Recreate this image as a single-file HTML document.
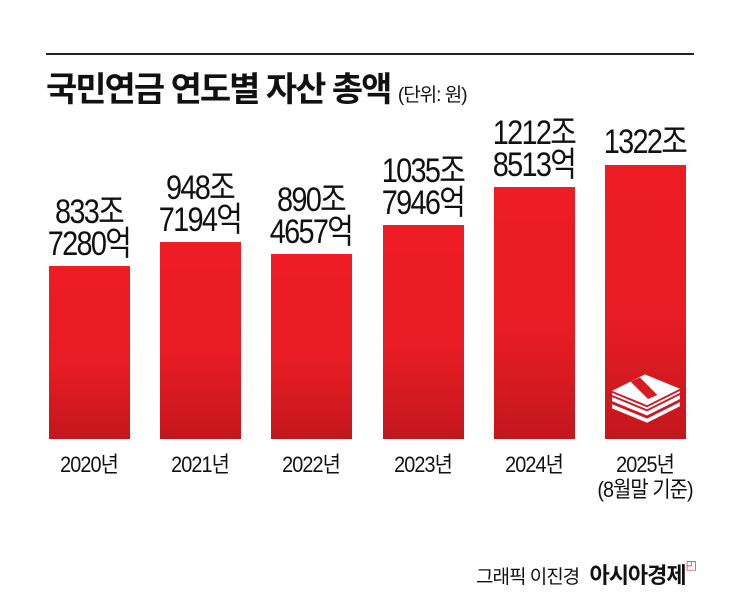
<!DOCTYPE html>
<html><head><meta charset="utf-8"><style>
body{margin:0;width:745px;height:608px;background:#fff;position:relative;overflow:hidden;font-family:"Liberation Sans","Noto Sans CJK KR",sans-serif;color:#111}
.ln{position:absolute;left:46px;top:53px;width:648px;height:2px;background:#222}
.title{position:absolute;left:46px;top:62px;font-size:34px;font-weight:bold;letter-spacing:-2px;white-space:nowrap}
.title span{font-size:19px;font-weight:normal;letter-spacing:-1px}
.bar{position:absolute;width:81px;bottom:169px;background:linear-gradient(#ee1c25 0%,#e81c24 55%,#c4161d 100%)}
.v{position:absolute;width:140px;text-align:center;font-size:34px;line-height:32px;letter-spacing:-2px;transform:scaleX(0.85);white-space:nowrap}
.y{position:absolute;width:140px;text-align:center;font-size:22px;line-height:25px;top:452px;letter-spacing:-1px;transform:scaleX(0.9)}
.cr{position:absolute;left:476px;top:558px;font-size:19px;letter-spacing:-1px;white-space:nowrap}
.cr b{font-size:22px;margin-left:6px}
</style></head><body>
<div class="ln"></div>
<div class="title">국민연금 연도별 자산 총액 <span>(단위: 원)</span></div>

<div class="bar" style="left:49px;top:266px"></div>
<div class="bar" style="left:160px;top:242px"></div>
<div class="bar" style="left:271px;top:254px"></div>
<div class="bar" style="left:383px;top:225px"></div>
<div class="bar" style="left:494px;top:187px"></div>
<div class="bar" style="left:605px;top:165px"></div>

<div class="v" style="left:19px;top:196px">833조<br>7280억</div>
<div class="v" style="left:130px;top:172px">948조<br>7194억</div>
<div class="v" style="left:241px;top:184px">890조<br>4657억</div>
<div class="v" style="left:353px;top:155px">1035조<br>7946억</div>
<div class="v" style="left:464px;top:117px">1212조<br>8513억</div>
<div class="v" style="left:575px;top:126px">1322조</div>

<svg style="position:absolute;left:610px;top:370px" width="72" height="54" viewBox="0 0 70 52">
<g fill="#fff">
<polygon points="2,20 34,4 68,18 36,34"/>
<polygon points="2,26 36,40 68,24 68,28 36,44 2,30"/>
<polygon points="2,33 36,47 68,31 68,35 36,51 2,37"/>
<polygon points="2,22 36,36 68,20 68,22 36,38 2,24"/>
</g>
<polygon points="20,11 29,7 46,24 37,28" fill="#d61b22"/>
</svg>

<div class="y" style="left:19px">2020년</div>
<div class="y" style="left:130px">2021년</div>
<div class="y" style="left:241px">2022년</div>
<div class="y" style="left:353px">2023년</div>
<div class="y" style="left:464px">2024년</div>
<div class="y" style="left:575px">2025년<br>(8월말 기준)</div>

<div class="cr">그래픽 이진경 <b>아시아경제</b><span style="color:#e02020;font-size:12px;vertical-align:top">◰</span></div>
</body></html>
